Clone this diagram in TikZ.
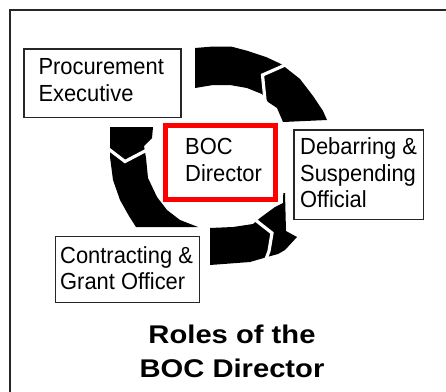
\documentclass[tikz,border=0pt]{standalone}
\usepackage{fontspec}
\newfontfamily\uifont[FakeStretch=0.94]{Liberation Sans}
\newfontfamily\headfont[FakeStretch=1.14]{Liberation Sans}
\begin{document}
\begin{tikzpicture}[x=1pt,y=-1pt,
  frame/.style={draw=black!85,line width=2pt},
  rolebox/.style={draw=black!85,line width=1.3pt,rectangle,inner sep=0pt},
  centerbox/.style={draw=red,line width=5pt,rectangle,inner sep=0pt},
  rolelabel/.style={anchor=north west,inner sep=0pt,align=left,
    font=\uifont\fontsize{23.3}{26.7}\selectfont},
  heading/.style={anchor=north,inner sep=0pt,align=center,
    font=\headfont\bfseries\fontsize{25.6}{33.4}\selectfont},
  ring/.style={fill=black},
  gap/.style={draw=white,line width=3.2pt,line join=miter}]
\useasboundingbox (0,0) rectangle (446,391);

% open frame: only its top and left edges are inside the picture
\draw[frame] (9.5,395) -- (9.5,9.5) -- (450,9.5);

% cycle ring: upper arc, joined by a chevron to the right-hand arc
\fill[ring] (195,48) -- (213,46.5) -- (231,46.5) -- (248,51) -- (266,57)
  -- (281,64) -- (300,79) -- (313,96) -- (323,111) -- (327,120)
  -- (283,122) -- (277,108) -- (268,102) -- (262,94) -- (247,88)
  -- (230,85) -- (213,85) -- (195,88) -- cycle;
\draw[gap] (292,62) -- (262.5,75) -- (265.5,105);

% lower arc ending in the arrowhead
\fill[ring] (210,228) -- (233,227) -- (253,224) -- (260,218) -- (275,207)
  -- (283,203) -- (283.3,193) -- (285,193) -- (286,231) -- (297,237)
  -- (285,250) -- (278,254) -- (267,257) -- (250,262) -- (210,265) -- cycle;
\draw[gap] (249,215) -- (272,233) -- (269,251) -- (265,262);

% left arc with its chevron joint
\fill[ring] (110,127) -- (153,127) -- (152,138) -- (144,146) -- (146,158)
  -- (148,178) -- (157,197) -- (167,210) -- (180,220) -- (198,227)
  -- (136,227) -- (129,216) -- (120,200) -- (113,180) -- (110,157) -- cycle;
\draw[gap] (104,145.5) -- (125,161.5) -- (151,147.8);

% role boxes
\node[rolebox,minimum width=157.1pt,minimum height=68.7pt] (proc) at (102.5,83.3) {};
\node[rolelabel] (procText) at (38.3,58.3) {Procurement\\Executive};

\node[centerbox,minimum width=110pt,minimum height=74pt] (boc) at (220.5,162.5) {};
\node[rolelabel] (bocText) at (185,138) {BOC\\Director};

\node[rolebox,minimum width=129.4pt,minimum height=89.4pt] (debar) at (358.7,174.7) {};
\node[rolelabel] (debarText) at (300,137.3) {Debarring \&\\Suspending\\Official};

\node[rolebox,minimum width=143.7pt,minimum height=66pt] (contr) at (127.5,269.7) {};
\node[rolelabel] (contrText) at (60,246) {Contracting \&\\Grant Officer};

% heading
\node[heading] (title) at (232,325) {Roles of the\\BOC Director};
\end{tikzpicture}
\end{document}
